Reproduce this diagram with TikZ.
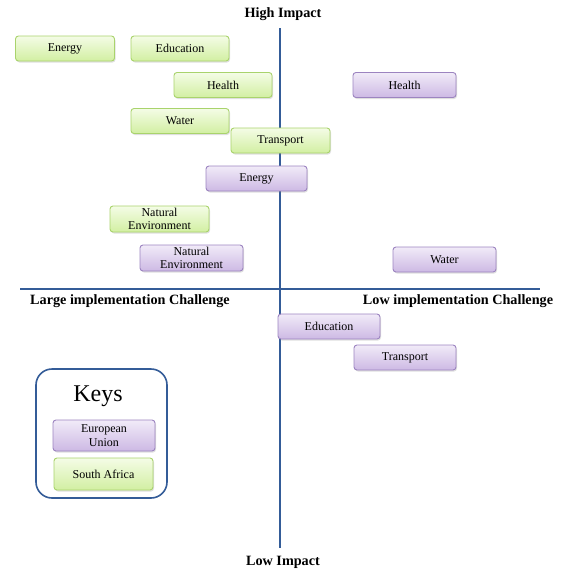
\documentclass[tikz,border=0pt]{standalone}
\usepackage{fontspec}
\setmainfont{Liberation Serif}
\usetikzlibrary{shadows}
\definecolor{axisblue}{HTML}{345C98}
\definecolor{gtop}{HTML}{F4FCE6}
\definecolor{gbot}{HTML}{D2EFA2}
\definecolor{gborder}{HTML}{A9D36C}
\definecolor{ptop}{HTML}{F1EBF8}
\definecolor{pbot}{HTML}{CDB9E4}
\definecolor{pborder}{HTML}{9C84C0}
\tikzset{
  tag/.style={rounded corners=3pt, minimum height=25pt, inner sep=0pt,
    align=center, font=\fontsize{12}{13.5}\selectfont, line width=0.9pt,
    drop shadow={shadow xshift=1pt, shadow yshift=-1.5pt, opacity=0.25}},
  sa/.style={tag, draw=gborder, top color=gtop, bottom color=gbot},
  eu/.style={tag, draw=pborder, top color=ptop, bottom color=pbot},
  axis/.style={draw=axisblue, line width=1.1pt},
  lbl/.style={font=\fontsize{14.2}{16}\selectfont\bfseries, inner sep=0pt}
}
\begin{document}
\begin{tikzpicture}[x=1pt,y=-1pt]
\useasboundingbox (0,0) rectangle (563,571);
% axes
\coordinate (vt) at (280,28);
\coordinate (vb) at (280,548);
\coordinate (hl) at (20,289);
\coordinate (hr) at (540,289);
\draw[axis] (vt) -- (vb);
\draw[axis] (hl) -- (hr);
\node[lbl] (hi) at (283,14) {High Impact};
\node[lbl] (lo) at (283,562) {Low Impact};
\node[lbl] (lc) at (130,301) {Large implementation Challenge};
\node[lbl] (sc) at (458,301) {Low implementation Challenge};
% South Africa (green)
\node[sa, minimum width=99pt] (saEnergy) at (65,48.5) {Energy};
\node[sa, minimum width=98pt] (saEdu) at (180,48.5) {Education};
\node[sa, minimum width=98pt] (saHealth) at (223,85) {Health};
\node[sa, minimum width=98pt] (saWater) at (180,121) {Water};
\node[sa, minimum width=99pt] (saTrans) at (280.5,140.5) {Transport};
\node[sa, minimum width=99pt, minimum height=26pt] (saNat) at (159.5,219) {Natural\\Environment};
% European Union (purple)
\node[eu, minimum width=103pt] (euHealth) at (404.5,85) {Health};
\node[eu, minimum width=101pt] (euEnergy) at (256.5,178.5) {Energy};
\node[eu, minimum width=103pt, minimum height=26pt] (euNat) at (191.5,258) {Natural\\Environment};
\node[eu, minimum width=103pt] (euWater) at (444.5,259.5) {Water};
\node[eu, minimum width=102pt] (euEdu) at (329,326.5) {Education};
\node[eu, minimum width=102pt] (euTrans) at (405,357.5) {Transport};
% Keys
\node[draw=axisblue, line width=1.6pt, rounded corners=16pt, minimum width=131pt, minimum height=129pt, fill=white] (keys) at (101.5,433.5) {};
\node[font=\fontsize{24}{26}\selectfont, inner sep=0pt] (keyst) at (98,396) {Keys};
\node[eu, minimum width=102pt, minimum height=31pt] (keyEU) at (104,435.5) {European\\Union};
\node[sa, minimum width=99pt, minimum height=32pt] (keySA) at (103.5,474) {South Africa};
\end{tikzpicture}
\end{document}
